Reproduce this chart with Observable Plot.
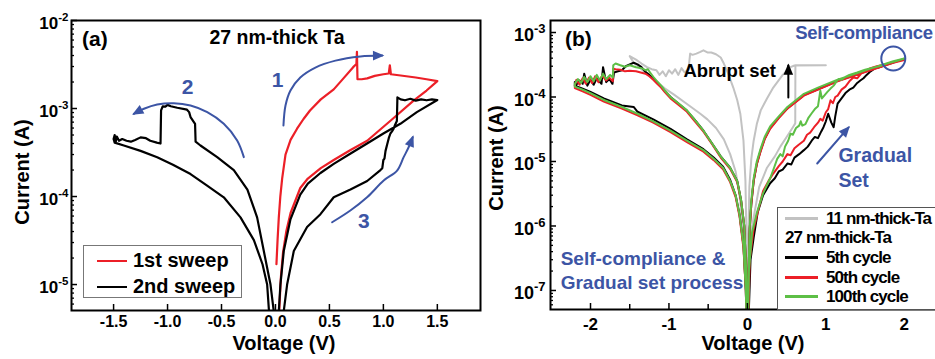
<!DOCTYPE html>
<html><head><meta charset="utf-8">
<script src="https://cdn.jsdelivr.net/npm/d3@7"></script>
<script src="https://cdn.jsdelivr.net/npm/@observablehq/plot@0.6"></script>
<style>
body{margin:0;background:#fff;}
#wrap{position:relative;width:935px;height:359px;overflow:hidden;background:#fff;font-family:"Liberation Sans",Arial,Helvetica,sans-serif;font-weight:bold;color:#000;}
.abs{position:absolute;white-space:nowrap;line-height:1;}
</style></head><body><div id="wrap"></div>
<script>
// ---------------- Panel (a): 27 nm-thick Ta ----------------
// [Voltage (V), Current (A)]
const sweep1 = [[0.009,1.7e-5],[0.02,3.3e-5],[0.031,5.8e-5],[0.045,1.0e-4],[0.062,1.6e-4],[0.093,3.0e-4],[0.14,4.4e-4],[0.2,5.9e-4],[0.26,7.6e-4],[0.32,9.5e-4],[0.42,1.27e-3],[0.54,1.65e-3],[0.63,2.2e-3],[0.72,2.95e-3],[0.75,3.2e-3],[0.755,4.4e-3],[0.76,2.15e-3],[0.8,2.15e-3],[0.85,2.2e-3],[0.92,2.35e-3],[1.0,2.45e-3],[1.05,2.5e-3],[1.06,3.1e-3],[1.07,2.45e-3],[1.16,2.37e-3],[1.3,2.25e-3],[1.4,2.15e-3],[1.5,2.05e-3],
  [1.4,1.6e-3],[1.28,1.23e-3],[1.09,7.7e-4],[0.85,4.3e-4],[0.7,3.4e-4],[0.54,2.6e-4],[0.42,2.1e-4],[0.3,1.6e-4],[0.23,1.25e-4],[0.14,6.5e-5],[0.1,4.0e-5],[0.07,2.3e-5],[0.05,1.2e-5],[0.035,5e-6]];
const sweep2 = [[0,1e-8],[-0.008,1e-6],[-0.016,5e-6],[-0.046,1.0e-5],[-0.108,2.4e-5],[-0.17,5.8e-5],[-0.26,1.2e-4],[-0.386,2.0e-4],[-0.54,2.8e-4],[-0.695,3.8e-4],[-0.74,4.2e-4],[-0.745,6.7e-4],[-0.787,8.0e-4],[-0.8,9.1e-4],[-0.82,9.7e-4],[-0.91,1.02e-3],[-0.97,1.06e-3],[-1.0,1.1e-3],[-1.02,1.05e-3],[-1.045,1.06e-3],[-1.06,9.5e-4],[-1.065,4.0e-4],[-1.1,4.1e-4],[-1.16,4.3e-4],[-1.2,4.6e-4],[-1.25,4.7e-4],[-1.3,4.4e-4],[-1.34,4.2e-4],[-1.38,4.3e-4],[-1.42,4.5e-4],[-1.45,4.3e-4],[-1.47,4.8e-4],[-1.48,4.2e-4],[-1.49,5.0e-4],[-1.5,4.5e-4],
  [-1.49,4.1e-4],[-1.405,3.8e-4],[-1.25,3.3e-4],[-1.096,2.8e-4],[-0.95,2.3e-4],[-0.787,1.8e-4],[-0.64,1.35e-4],[-0.479,9.8e-5],[-0.324,5.8e-5],[-0.2,3.2e-5],[-0.12,1.7e-5],[-0.077,1.0e-5],[-0.06,5e-6],[-0.03,1e-6],[0,1e-8],
  [0.03,1e-6],[0.077,5e-6],[0.108,1.0e-5],[0.17,2.4e-5],[0.293,4.5e-5],[0.417,6.3e-5],[0.54,9.8e-5],[0.695,1.2e-4],[0.85,1.5e-4],[0.973,2.0e-4],[0.99,2.1e-4],[1.0,2.6e-4],[1.01,2.7e-4],[1.02,3.3e-4],[1.035,3.9e-4],[1.05,4.6e-4],[1.065,5.2e-4],[1.08,5.5e-4],[1.095,5.9e-4],[1.11,6.6e-4],[1.125,7.2e-4],[1.13,1.34e-3],[1.16,1.27e-3],[1.2,1.24e-3],[1.25,1.29e-3],[1.3,1.23e-3],[1.35,1.27e-3],[1.4,1.24e-3],[1.45,1.27e-3],[1.5,1.25e-3],
  [1.31,9.1e-4],[1.157,6.7e-4],[1.0,5.2e-4],[0.849,4.0e-4],[0.7,3.1e-4],[0.54,2.35e-4],[0.417,1.85e-4],[0.3,1.4e-4],[0.23,1.05e-4],[0.139,5.5e-5],[0.077,2.4e-5],[0.046,1.0e-5],[0.031,5e-6],[0.015,1e-6],[0,1e-8]];
// blue direction arrows and their numbers (data units)
const arrow1 = [[0.074,6.4e-4],[0.093,1.08e-3],[0.139,1.6e-3],[0.23,2.25e-3],[0.37,2.92e-3],[0.556,3.5e-3],[0.787,3.9e-3],[0.99,4.0e-3]];
const arrow2 = [[-0.293,2.8e-4],[-0.355,4.33e-4],[-0.479,6.7e-4],[-0.632,9.08e-4],[-0.787,1.08e-3],[-0.942,1.15e-3],[-1.096,1.11e-3],[-1.219,9.93e-4],[-1.312,8.7e-4]];
const arrow3 = [[0.525,5.1e-5],[0.694,6.93e-5],[0.849,9.8e-5],[1.003,1.52e-4],[1.127,1.97e-4],[1.188,2.8e-4],[1.234,3.63e-4],[1.272,4.72e-4]];
const stepLabels = [{t:"1",V:0.02,I:2.08e-3},{t:"2",V:-0.815,I:1.74e-3},{t:"3",V:0.82,I:5.2e-5}];
const xTicksA = [-1.5,-1.0,-0.5,0,0.5,1.0,1.5];
const xTickLabelsA = ["-1.5","-1.0","-0.5","0.0","0.5","1.0","1.5"];
const yTicksA = [1e-5,1e-4,1e-3,1e-2];

// ---------------- Panel (b): cycles ----------------
const ta11 = [[0,1e-8],[0.02,2e-7],[0.06,1e-6],[0.15,4e-6],[0.25,8e-6],[0.35,1.2e-5],[0.42,1.7e-5],[0.5,2.4e-5],[0.58,3.4e-5],[0.61,3.9e-5],[0.612,3.1e-4],[0.8,3.1e-4],[1.0,3.1e-4],
  [0.6,3.08e-4],[0.55,2.9e-4],[0.45,2.2e-4],[0.33,1.4e-4],[0.25,9.5e-5],[0.17,6.2e-5],[0.12,3.8e-5],[0.08,2.1e-5],[0.05,1.1e-5],[0.025,4e-6],[0.01,5e-7],[0,1e-8],
  [-0.01,5e-7],[-0.025,5e-6],[-0.05,2.1e-5],[-0.09,5.5e-5],[-0.13,9e-5],[-0.18,1.4e-4],[-0.25,2.4e-4],[-0.3,3.3e-4],[-0.34,4.1e-4],[-0.4,4.6e-4],[-0.46,4.9e-4],[-0.51,4.9e-4],[-0.56,5.3e-4],[-0.6,5.0e-4],[-0.65,4.7e-4],[-0.7,4.5e-4],[-0.73,4.7e-4],[-0.75,2.7e-4],[-0.8,2.4e-4],[-0.84,2.8e-4],[-0.88,2.2e-4],[-0.92,2.7e-4],[-0.96,2.3e-4],[-1.0,2.6e-4],[-1.04,2.1e-4],[-1.08,2.5e-4],[-1.12,2.2e-4],[-1.16,2.6e-4],[-1.22,2.7e-4],[-1.28,2.9e-4],[-1.35,3.3e-4],[-1.42,3.8e-4],[-1.5,4.3e-4],
  [-1.45,3.4e-4],[-1.35,2.7e-4],[-1.25,2.1e-4],[-1.15,1.7e-4],[-1.05,1.35e-4],[-0.94,1.1e-4],[-0.77,7.8e-5],[-0.6,5.5e-5],[-0.51,4.5e-5],[-0.4,3.3e-5],[-0.3,2.2e-5],[-0.22,1.3e-5],[-0.15,7e-6],[-0.1,3e-6],[-0.05,8e-7],[-0.02,1e-7],[0,1e-8]];
const cycle5 = [[0,1e-8],[0.04,3e-7],[0.08,6.6e-7],[0.13,1.6e-6],[0.2,3e-6],[0.29,4.6e-6],[0.35,5.5e-6],[0.4,7e-6],[0.45,7.5e-6],[0.51,9.3e-6],[0.56,9e-6],[0.6,1.15e-5],[0.66,1.3e-5],[0.72,1.5e-5],[0.77,1.7e-5],[0.82,2.1e-5],[0.86,2.4e-5],[0.9,2.3e-5],[0.94,2.9e-5],[0.97,3.4e-5],[1.0,4.2e-5],[1.03,5.5e-5],[1.07,4.0e-5],[1.1,3.4e-5],[1.12,5.0e-5],[1.15,7.9e-5],[1.2,9.5e-5],[1.25,1.15e-4],[1.3,1.3e-4],[1.35,1.4e-4],[1.4,1.65e-4],[1.44,1.8e-4],[1.48,1.95e-4],[1.52,2.2e-4],[1.57,2.5e-4],[1.62,2.75e-4],[1.68,2.9e-4],[1.75,3.1e-4],[1.85,3.4e-4],[1.95,3.75e-4],[2.0,3.85e-4],
  [1.86,3.45e-4],[1.57,2.65e-4],[1.15,1.78e-4],[0.9,1.32e-4],[0.72,1.07e-4],[0.51,6.7e-5],[0.4,4.8e-5],[0.29,3.3e-5],[0.22,2.25e-5],[0.17,1.5e-5],[0.12,9.2e-6],[0.08,5e-6],[0.05,2.2e-6],[0.03,9e-7],[0.015,2e-7],[0,1e-8],
  [-0.015,2e-7],[-0.04,1e-6],[-0.08,2.5e-6],[-0.13,5e-6],[-0.22,8e-6],[-0.34,1.2e-5],[-0.45,1.9e-5],[-0.56,3e-5],[-0.67,4.4e-5],[-0.77,6.1e-5],[-0.88,7.9e-5],[-0.98,1.0e-4],[-1.05,1.22e-4],[-1.1,1.45e-4],[-1.15,1.7e-4],[-1.2,1.95e-4],[-1.25,2.2e-4],[-1.3,2.45e-4],[-1.35,2.9e-4],[-1.4,3.2e-4],[-1.45,3.4e-4],[-1.5,3.2e-4],[-1.55,3.0e-4],[-1.6,2.6e-4],[-1.65,2.5e-4],[-1.7,2.4e-4],[-1.72,1.6e-4],[-1.76,1.9e-4],[-1.8,1.7e-4],[-1.84,2.9e-4],[-1.86,1.6e-4],[-1.92,1.95e-4],[-1.96,1.55e-4],[-2.0,1.85e-4],[-2.04,1.5e-4],[-2.08,2.3e-4],[-2.1,1.6e-4],[-2.14,1.8e-4],[-2.18,1.55e-4],[-2.2,1.7e-4],
  [-2.2,1.5e-4],[-2.1,1.35e-4],[-2.0,1.2e-4],[-1.83,9.5e-5],[-1.6,7.4e-5],[-1.45,7.0e-5],[-1.4,5.9e-5],[-1.2,4.5e-5],[-0.98,3.2e-5],[-0.77,2.2e-5],[-0.56,1.55e-5],[-0.43,1.15e-5],[-0.31,8.3e-6],[-0.22,5.2e-6],[-0.15,3e-6],[-0.1,1.5e-6],[-0.05,5e-7],[-0.02,1e-7],[0,1e-8]];
const cycle50 = [[0,1e-8],[0.03,3e-7],[0.08,9e-7],[0.14,1.8e-6],[0.2,3.5e-6],[0.27,5e-6],[0.33,6.5e-6],[0.4,8.5e-6],[0.45,1.0e-5],[0.51,1.3e-5],[0.55,1.25e-5],[0.6,1.6e-5],[0.65,1.8e-5],[0.72,2.1e-5],[0.76,2.6e-5],[0.8,2.8e-5],[0.85,3.4e-5],[0.9,4.0e-5],[0.93,4.6e-5],[0.96,4.3e-5],[1.0,5.8e-5],[1.03,6.5e-5],[1.06,8.9e-5],[1.09,8.0e-5],[1.12,1.0e-4],[1.15,1.05e-4],[1.2,1.3e-4],[1.25,1.45e-4],[1.3,1.75e-4],[1.35,2.0e-4],[1.4,1.95e-4],[1.45,2.3e-4],[1.5,2.5e-4],[1.57,2.8e-4],[1.65,3.0e-4],[1.75,3.2e-4],[1.85,3.45e-4],[1.95,3.65e-4],[2.0,3.75e-4],
  [1.86,3.4e-4],[1.57,2.6e-4],[1.15,1.75e-4],[0.9,1.3e-4],[0.72,1.05e-4],[0.51,6.6e-5],[0.4,4.7e-5],[0.29,3.2e-5],[0.22,2.2e-5],[0.17,1.45e-5],[0.12,9e-6],[0.08,5e-6],[0.05,2.2e-6],[0.03,9e-7],[0.015,2e-7],[0,1e-8],
  [-0.015,2e-7],[-0.04,1e-6],[-0.08,2.4e-6],[-0.13,4.8e-6],[-0.22,7.7e-6],[-0.34,1.15e-5],[-0.45,1.85e-5],[-0.56,2.9e-5],[-0.67,4.2e-5],[-0.77,5.9e-5],[-0.88,7.6e-5],[-0.98,9.5e-5],[-1.05,1.18e-4],[-1.1,1.4e-4],[-1.15,1.6e-4],[-1.2,1.85e-4],[-1.25,2.1e-4],[-1.3,2.3e-4],[-1.36,2.4e-4],[-1.42,2.5e-4],[-1.5,2.55e-4],[-1.56,2.5e-4],[-1.62,2.65e-4],[-1.68,2.7e-4],[-1.71,2.75e-4],[-1.715,1.75e-4],[-1.76,2.0e-4],[-1.8,1.8e-4],[-1.85,2.15e-4],[-1.9,1.7e-4],[-1.94,2.1e-4],[-1.98,1.65e-4],[-2.02,2.0e-4],[-2.06,1.6e-4],[-2.1,1.95e-4],[-2.14,1.55e-4],[-2.18,1.85e-4],[-2.2,1.5e-4],
  [-2.2,1.38e-4],[-2.1,1.22e-4],[-2.0,1.08e-4],[-1.83,8.5e-5],[-1.6,6.6e-5],[-1.4,5.2e-5],[-1.2,4.0e-5],[-0.98,2.85e-5],[-0.77,2.0e-5],[-0.56,1.42e-5],[-0.43,1.05e-5],[-0.31,7.6e-6],[-0.22,4.8e-6],[-0.15,2.8e-6],[-0.1,1.4e-6],[-0.05,4.5e-7],[-0.02,1e-7],[0,1e-8]];
const cycle100 = [[0,1e-8],[0.02,2e-7],[0.06,8e-7],[0.12,1.6e-6],[0.2,3.2e-6],[0.29,5.5e-6],[0.34,8e-6],[0.38,1.1e-5],[0.42,1.3e-5],[0.45,1.2e-5],[0.48,1.7e-5],[0.52,2.1e-5],[0.55,2.7e-5],[0.58,2.6e-5],[0.62,3.3e-5],[0.66,3.6e-5],[0.68,4.2e-5],[0.7,3.6e-5],[0.74,3.8e-5],[0.78,4.8e-5],[0.82,5.6e-5],[0.86,6.5e-5],[0.9,7.2e-5],[0.93,1.25e-4],[0.95,9.5e-5],[0.98,1.05e-4],[1.02,1.2e-4],[1.06,1.35e-4],[1.1,1.5e-4],[1.13,1.7e-4],[1.16,1.9e-4],[1.2,1.85e-4],[1.25,2.05e-4],[1.3,2.2e-4],[1.4,2.4e-4],[1.5,2.65e-4],[1.6,2.85e-4],[1.7,3.05e-4],[1.8,3.35e-4],[1.9,3.6e-4],[2.0,3.95e-4],
  [1.86,3.6e-4],[1.57,2.75e-4],[1.15,1.85e-4],[0.9,1.4e-4],[0.72,1.12e-4],[0.51,7e-5],[0.4,5e-5],[0.29,3.5e-5],[0.22,2.4e-5],[0.17,1.6e-5],[0.12,1e-5],[0.08,5.5e-6],[0.05,2.5e-6],[0.03,1e-6],[0.015,2e-7],[0,1e-8],
  [-0.015,2e-7],[-0.04,1e-6],[-0.08,2.5e-6],[-0.13,5e-6],[-0.22,8e-6],[-0.34,1.2e-5],[-0.45,1.9e-5],[-0.56,3e-5],[-0.67,4.4e-5],[-0.77,6.2e-5],[-0.88,8e-5],[-0.98,1.0e-4],[-1.05,1.25e-4],[-1.1,1.5e-4],[-1.15,1.75e-4],[-1.2,2.05e-4],[-1.24,2.4e-4],[-1.27,2.7e-4],[-1.3,2.6e-4],[-1.35,2.8e-4],[-1.42,2.9e-4],[-1.5,3.1e-4],[-1.56,2.95e-4],[-1.62,3.1e-4],[-1.68,3.3e-4],[-1.71,3.1e-4],[-1.715,2.0e-4],[-1.75,2.2e-4],[-1.8,1.9e-4],[-1.84,2.3e-4],[-1.88,1.8e-4],[-1.92,2.2e-4],[-1.96,1.75e-4],[-2.0,2.1e-4],[-2.04,1.7e-4],[-2.08,2.05e-4],[-2.12,1.65e-4],[-2.16,1.9e-4],[-2.2,1.6e-4],
  [-2.2,1.45e-4],[-2.1,1.3e-4],[-2.0,1.15e-4],[-1.83,9e-5],[-1.6,7e-5],[-1.4,5.5e-5],[-1.2,4.2e-5],[-0.98,3.0e-5],[-0.77,2.1e-5],[-0.56,1.5e-5],[-0.43,1.1e-5],[-0.31,8e-6],[-0.22,5e-6],[-0.15,3e-6],[-0.1,1.5e-6],[-0.05,5e-7],[-0.02,1e-7],[0,1e-8]];
const abruptArrow = [[0.522,9.8e-5],[0.522,3.08e-4]];
const gradualArrow = [[0.89,9.3e-6],[1.29,3.37e-5]];
const complianceMark = [[1.86,3.95e-4]];
const notesB = [
  {t:"Self-compliance",V:0.61,I:9.65e-4,c:"blue",s:18.5,ls:-0.3},
  {t:"Abrupt set",V:-0.815,I:2.48e-4,c:"black",s:18.5,ls:0},
  {t:"Gradual",V:1.16,I:1.24e-5,c:"blue",s:19.5,ls:0},
  {t:"Set",V:1.16,I:5.07e-6,c:"blue",s:19.5,ls:0},
  {t:"Self-compliance &",V:-2.38,I:3.13e-7,c:"blue",s:19,ls:0},
  {t:"Gradual set process",V:-2.38,I:1.33e-7,c:"blue",s:19,ls:0}];
const xTicksB = [-2,-1,0,1,2];
const xMinorB = [-1.5,-0.5,0.5,1.5];
const yTicksB = [1e-7,1e-6,1e-5,1e-4,1e-3];

// ---------------- helpers ----------------
const FONT = '"Liberation Sans", Arial, Helvetica, sans-serif';
const BLUE = "#3c55a5", RED = "#ec1f27", GREEN = "#5dbf46", GRAY = "#c2c2c2";
const rows = (pairs) => pairs.map(([V, I]) => ({V, I}));
const minorLog = (lo, hi) => { const t = []; for (let e = -9; e <= -1; e++) for (let m = 2; m <= 9; m++) { const v = m * Math.pow(10, e); if (v >= lo && v <= hi) t.push(v); } return t; };
const powLabel = (d) => "10^" + Math.round(Math.log10(d));
const wrap = document.getElementById("wrap");

function finish(svg, left, supBig, supSmall, supDy) {
  svg.style.position = "absolute"; svg.style.left = left + "px"; svg.style.top = "0px";
  const ns = "http://www.w3.org/2000/svg";
  svg.querySelectorAll("text").forEach(t => {
    const s = t.textContent;
    if (/^10\^/.test(s)) {
      const [base, ex] = s.split("^");
      while (t.firstChild) t.removeChild(t.firstChild);
      const a = document.createElementNS(ns, "tspan"); a.textContent = base; a.setAttribute("font-size", supBig);
      const b = document.createElementNS(ns, "tspan"); b.textContent = ex; b.setAttribute("font-size", supSmall); b.setAttribute("dy", supDy);
      t.appendChild(a); t.appendChild(b);
      t.setAttribute("transform", (t.getAttribute("transform") || "") + " translate(0,3)");
    }
  });
  svg.querySelectorAll("marker").forEach(m => {
    const c = m.getAttribute("stroke") || "black";
    m.setAttribute("overflow", "visible");
    m.setAttribute("fill", c); m.setAttribute("stroke", "none");
    const p = m.querySelector("path");
    if (p) { p.setAttribute("d", "M-7,-3.6L1.5,0L-7,3.6Z"); p.setAttribute("fill", c); p.setAttribute("stroke", "none"); }
  });
  wrap.appendChild(svg);
}

const commonStyle = {background: "transparent", fontFamily: FONT, fontWeight: "bold", overflow: "visible", color: "black"};

// ---------------- Panel (a) plot ----------------
const plotA = Plot.plot({
  width: 490, height: 359, marginLeft: 71, marginRight: 10, marginTop: 20, marginBottom: 49,
  style: commonStyle,
  x: {domain: [-1.89, 1.9], axis: null},
  y: {type: "log", domain: [5.07e-6, 1e-2], axis: null},
  marks: [
    Plot.line(rows(sweep1), {x: "V", y: "I", stroke: RED, strokeWidth: 2.2, clip: true}),
    Plot.line(rows(sweep2), {x: "V", y: "I", stroke: "black", strokeWidth: 2.2, clip: true}),
    Plot.line(rows(arrow1), {x: "V", y: "I", stroke: BLUE, strokeWidth: 2, curve: "catmull-rom", markerEnd: "arrow"}),
    Plot.line(rows(arrow2), {x: "V", y: "I", stroke: BLUE, strokeWidth: 2, curve: "catmull-rom", markerEnd: "arrow"}),
    Plot.line(rows(arrow3), {x: "V", y: "I", stroke: BLUE, strokeWidth: 2, curve: "catmull-rom", markerEnd: "arrow"}),
    Plot.text(stepLabels, {x: "V", y: "I", text: "t", fill: BLUE, fontSize: 21, fontWeight: "bold"}),
    Plot.axisY(yTicksA, {anchor: "left", tickSize: -6, tickPadding: 9, tickFormat: powLabel, fontSize: 17, fontWeight: "bold", strokeWidth: 1.5, label: null}),
    Plot.axisY(minorLog(5.07e-6, 1e-2), {anchor: "left", tickSize: -3, tickFormat: () => "", strokeWidth: 1.3, label: null}),
    Plot.axisX(xTicksA, {anchor: "bottom", tickSize: -6, tickPadding: 11, tickFormat: d => xTickLabelsA[xTicksA.indexOf(d)], fontSize: 16, fontWeight: "bold", strokeWidth: 1.5, label: null}),
    Plot.frame({stroke: "black", strokeWidth: 2})
  ]
});
finish(plotA, 0, 17, 11.5, -8);

// ---------------- Panel (b) plot ----------------
const plotB = Plot.plot({
  width: 470, height: 359, marginLeft: 70, marginRight: 7, marginTop: 20, marginBottom: 50,
  style: commonStyle,
  x: {domain: [-2.51, 2.5], axis: null},
  y: {type: "log", domain: [5.07e-8, 1.535e-3], axis: null},
  marks: [
    Plot.line(rows(ta11), {x: "V", y: "I", stroke: GRAY, strokeWidth: 2, clip: true}),
    Plot.line(rows(cycle5), {x: "V", y: "I", stroke: "black", strokeWidth: 2, clip: true}),
    Plot.line(rows(cycle50), {x: "V", y: "I", stroke: RED, strokeWidth: 2, clip: true}),
    Plot.line(rows(cycle100), {x: "V", y: "I", stroke: GREEN, strokeWidth: 2, clip: true}),
    Plot.line(rows(abruptArrow), {x: "V", y: "I", stroke: "black", strokeWidth: 2, markerEnd: "arrow"}),
    Plot.line(rows(gradualArrow), {x: "V", y: "I", stroke: BLUE, strokeWidth: 2, markerEnd: "arrow"}),
    Plot.dot(rows(complianceMark), {x: "V", y: "I", r: 12, stroke: BLUE, strokeWidth: 2, fill: "none"}),
    Plot.text(notesB, {x: "V", y: "I", text: "t", fill: d => d.c === "blue" ? BLUE : "black", fontSize: d => d.s, textAnchor: "start", fontWeight: "bold"}),
    Plot.axisY(yTicksB, {anchor: "left", tickSize: -6, tickPadding: 11, tickFormat: powLabel, fontSize: 18, fontWeight: "bold", strokeWidth: 1.5, label: null}),
    Plot.axisY(minorLog(5.07e-8, 1.535e-3), {anchor: "left", tickSize: -3, tickFormat: () => "", strokeWidth: 1.3, label: null}),
    Plot.axisX(xTicksB, {anchor: "bottom", tickSize: -6, tickPadding: 14, tickFormat: d => String(d).replace("\u2212", "-"), fontSize: 17, fontWeight: "bold", strokeWidth: 1.5, label: null}),
    Plot.axisX(xMinorB, {anchor: "bottom", tickSize: -5, tickFormat: () => "", strokeWidth: 1.5, label: null}),
    Plot.frame({stroke: "black", strokeWidth: 2})
  ]
});
// slightly tighter letter spacing on the clipped top-right note so it stays inside the page
plotB.querySelectorAll("text").forEach(t => { if (t.textContent === "Self-compliance") t.setAttribute("letter-spacing", "-0.3"); });
finish(plotB, 480, 18, 13, -8);

// ---------------- HTML text, titles, legends ----------------
function addText(txt, css) { const d = document.createElement("div"); d.className = "abs"; d.textContent = txt; Object.assign(d.style, css); wrap.appendChild(d); return d; }
function addBox(css) { const d = document.createElement("div"); d.style.position = "absolute"; d.style.boxSizing = "border-box"; Object.assign(d.style, css); wrap.appendChild(d); return d; }

addText("(a)", {left: "82px", top: "38px", fontSize: "21px", transform: "translateY(-50%)"});
addText("27 nm-thick Ta", {left: "277px", top: "38px", fontSize: "19.5px", transform: "translate(-50%,-50%)"});
addText("Voltage (V)", {left: "284px", top: "343px", fontSize: "20px", transform: "translate(-50%,-50%)"});
addText("Current (A)", {left: "22px", top: "172px", fontSize: "20px", transform: "translate(-50%,-50%) rotate(-90deg)"});
addText("(b)", {left: "565px", top: "38px", fontSize: "21px", transform: "translateY(-50%)"});
addText("Voltage (V)", {left: "753px", top: "343px", fontSize: "20px", transform: "translate(-50%,-50%)"});
addText("Current (A)", {left: "496px", top: "158px", fontSize: "20px", transform: "translate(-50%,-50%) rotate(-90deg)"});

// legend (a)
const legendA = [{t: "1st sweep", c: RED, y: 261}, {t: "2nd sweep", c: "black", y: 287}];
addBox({left: "83px", top: "245px", width: "159px", height: "53px", border: "1.5px solid #777", background: "#fff"});
legendA.forEach(e => {
  addBox({left: "97px", top: (e.y - 1) + "px", width: "30px", height: "2px", background: e.c});
  addText(e.t, {left: "133px", top: (e.y - 1) + "px", fontSize: "20px", transform: "translateY(-50%)"});
});

// legend (b)
addBox({left: "777px", top: "207px", width: "200px", height: "103px", border: "1.5px solid #555", background: "#fff"});
const legendB = [{t: "11 nm-thick-Ta", c: GRAY, y: 218}, {t: "27 nm-thick-Ta", c: null, y: 237}, {t: "5th cycle", c: "black", y: 257}, {t: "50th cycle", c: RED, y: 277}, {t: "100th cycle", c: GREEN, y: 296}];
legendB.forEach(e => {
  if (e.c) addBox({left: "785px", top: (e.y - 1) + "px", width: "33px", height: "2.5px", background: e.c});
  addText(e.t, {left: e.c ? "826px" : "785px", top: e.y + "px", fontSize: "17px", letterSpacing: "-0.9px", transform: "translateY(-50%)"});
});
</script></body></html>
